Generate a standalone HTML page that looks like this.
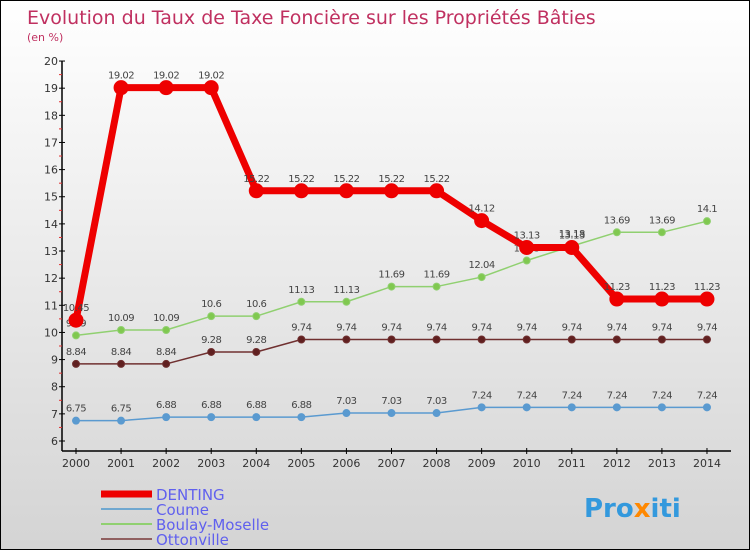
<!DOCTYPE html>
<html><head><meta charset="utf-8"><style>
body{margin:0}
#c{width:750px;height:550px;position:relative;box-sizing:border-box;border:1px solid #000;background:linear-gradient(#ffffff,#d4d4d4);font-family:"DejaVu Sans","Liberation Sans",sans-serif;overflow:hidden}
text{font-family:"DejaVu Sans","Liberation Sans",sans-serif}
</style></head><body>
<div id="c">
<svg id="s" width="750" height="550">
<text x="26" y="23" font-size="19" fill="#c03060">Evolution du Taux de Taxe Foncière sur les Propriétés Bâties</text>
<text x="26" y="40" font-size="11" fill="#c03060">(en %)</text>
<g id="ax"></g><g id="series"></g>
<g>
<line x1="100" y1="493" x2="151" y2="493" stroke="#ee0000" stroke-width="7"/>
<text x="155" y="499" font-size="15" fill="#6060ee">DENTING</text>
<line x1="100" y1="508" x2="151" y2="508" stroke="#70a8d0" stroke-width="2"/>
<text x="155" y="514" font-size="15" fill="#6060ee">Coume</text>
<line x1="100" y1="523" x2="151" y2="523" stroke="#90d070" stroke-width="2"/>
<text x="155" y="529" font-size="15" fill="#6060ee">Boulay-Moselle</text>
<line x1="100" y1="538" x2="151" y2="538" stroke="#906060" stroke-width="2"/>
<text x="155" y="544" font-size="15" fill="#6060ee">Ottonville</text>
</g>
<text x="583" y="516" font-size="26" font-weight="bold"><tspan fill="#3399dd">Pro</tspan><tspan fill="#ff8800">x</tspan><tspan fill="#3399dd">iti</tspan></text>
</svg></div>
<script>
const years=[2000,2001,2002,2003,2004,2005,2006,2007,2008,2009,2010,2011,2012,2013,2014];
const yTicks=[6,7,8,9,10,11,12,13,14,15,16,17,18,19,20];
const denting=[10.45,19.02,19.02,19.02,15.22,15.22,15.22,15.22,15.22,14.12,13.13,13.13,11.23,11.23,11.23];
const coume=[6.75,6.75,6.88,6.88,6.88,6.88,7.03,7.03,7.03,7.24,7.24,7.24,7.24,7.24,7.24];
const boulay=[9.89,10.09,10.09,10.6,10.6,11.13,11.13,11.69,11.69,12.04,12.65,13.18,13.69,13.69,14.1];
const ottonville=[8.84,8.84,8.84,9.28,9.28,9.74,9.74,9.74,9.74,9.74,9.74,9.74,9.74,9.74,9.74];
const NS="http://www.w3.org/2000/svg";
const X=i=>75+i*45.07, Y=v=>440-(v-6)*27.14;
function mk(t,a,p){const e=document.createElementNS(NS,t);for(const k in a)e.setAttribute(k,a[k]);p.appendChild(e);return e;}
const ax=document.getElementById('ax');
let e=mk('line',{x1:61,y1:60,x2:61,y2:450,stroke:'#000','stroke-width':1.5},ax);

e=mk('line',{x1:61,y1:450,x2:730,y2:450,stroke:'#000','stroke-width':1.5},ax);

yTicks.forEach(v=>{mk('line',{x1:58,y1:Y(v),x2:64,y2:Y(v),stroke:'#000'},ax);
 if(v<20)mk('line',{x1:58,y1:Y(v+0.5),x2:61,y2:Y(v+0.5),stroke:'#e03030'},ax);
 e=mk('text',{x:57,y:Y(v)+4,'font-size':11,fill:'#333','text-anchor':'end'},ax);e.textContent=v;
 });
years.forEach((y,i)=>{mk('line',{x1:X(i),y1:447,x2:X(i),y2:453,stroke:'#000'},ax);
 e=mk('text',{x:X(i),y:466,'font-size':11,fill:'#333','text-anchor':'middle'},ax);e.textContent=y;
 });
const sg=document.getElementById('series');
function draw(d,name,col,w,r,fill){const g=mk('g',{},sg);
 
 mk('polyline',{points:d.map((v,i)=>X(i)+','+Y(v)).join(' '),fill:'none',stroke:col,'stroke-width':w,'stroke-linejoin':'round'},g);
 d.forEach((v,i)=>{const c=mk('circle',{cx:X(i),cy:Y(v),r:r,fill:fill,stroke:col,'stroke-width':1},g);
  
  const t=mk('text',{x:X(i),y:Y(v)-9,'font-size':10,fill:'#444','text-anchor':'middle','letter-spacing':'-0.5'},g);t.textContent=v;
  });}
draw(coume,'coume','#5a9ad0',1.5,3.5,'#5a9ad0');
draw(ottonville,'ottonville','#703030',1.5,3.5,'#602020');
draw(boulay,'boulay','#90d070',1.5,3.5,'#80c850');
draw(denting,'denting','#ee0000',7,7,'#ee0000');
</script>
</body></html>
